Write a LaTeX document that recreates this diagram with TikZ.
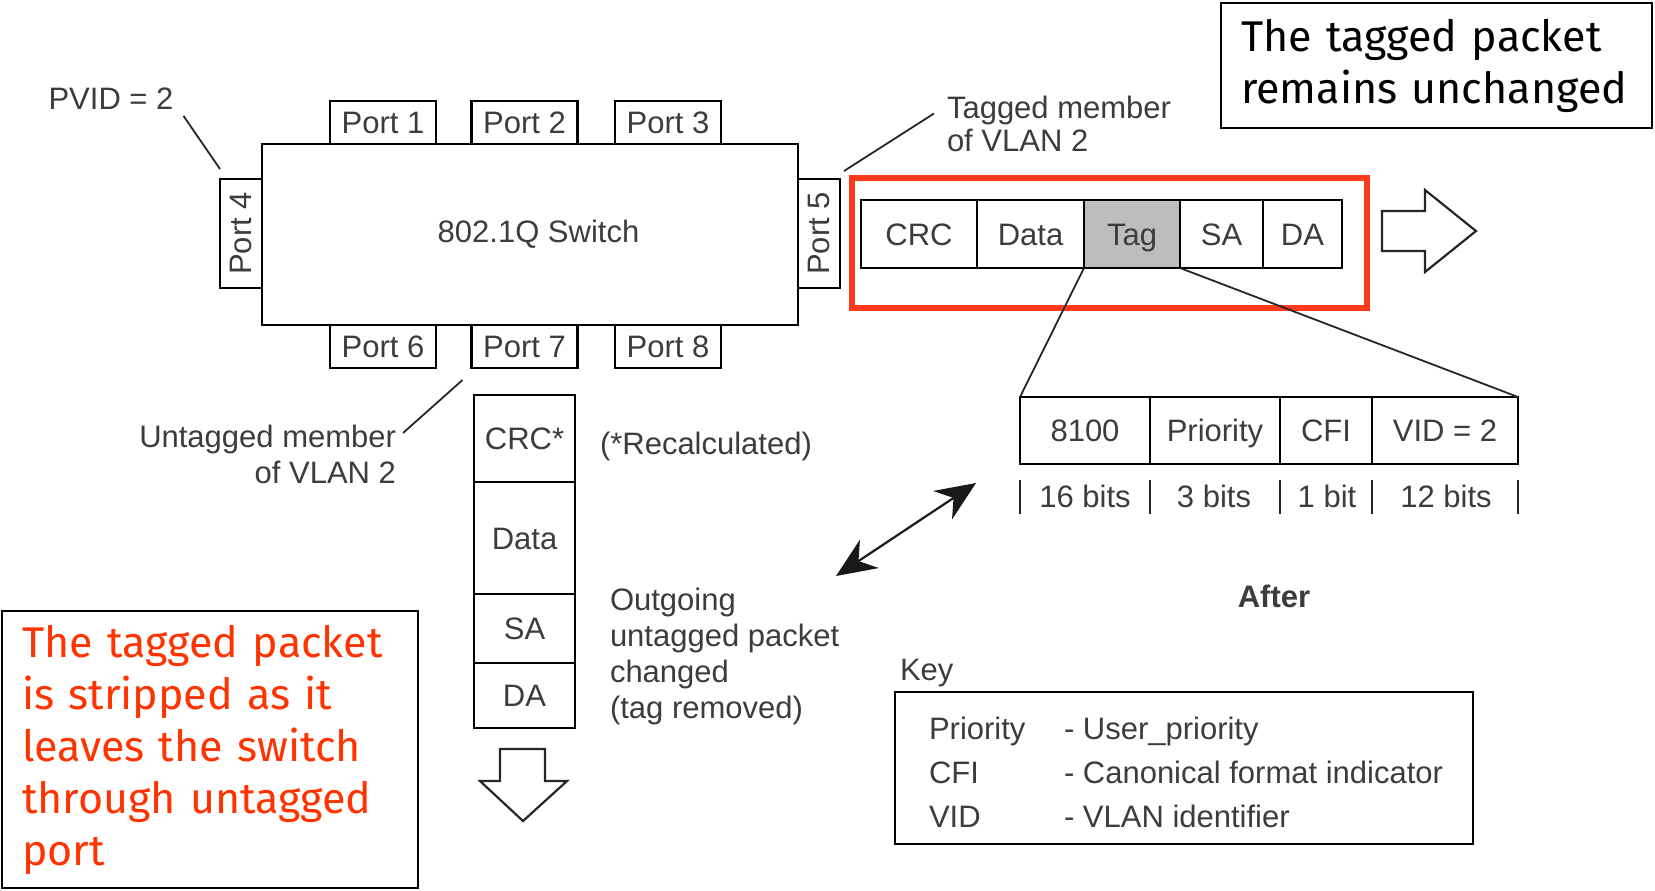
\documentclass[tikz,border=0pt]{standalone}
\usepackage{graphicx}
\usepackage{fontspec}
\setmainfont{Liberation Sans}
\newfontfamily\handfont{Fira Sans}
\usetikzlibrary{arrows.meta,positioning}
\definecolor{NoteRed}{HTML}{FF3300}
\definecolor{FrameRed}{HTML}{FF3A1A}
\definecolor{InkGray}{HTML}{3C3C3C}
\definecolor{TagGray}{HTML}{BDBDBD}

\begin{document}
\begin{tikzpicture}[x=0.5pt,y=-0.5pt,>=Latex,line cap=butt,line join=miter,
  every node/.style={text=InkGray,font=\fontsize{15.5}{18}\selectfont},
  box/.style={draw=black,line width=1.2pt,inner sep=0pt,outer sep=0pt},
  even/.style={text height=14pt,text depth=2.8pt},
  port/.style={box,even,minimum width=53pt,minimum height=21.5pt},
  sideport/.style={box,minimum width=21pt,minimum height=54.5pt},
  cell/.style={box,even,minimum height=34pt},
  vcell/.style={box,even,minimum width=50.5pt},
  txt/.style={inner sep=1pt,outer sep=0pt},
  leader/.style={black!85,line width=0.9pt},
  bitmark/.style={black!85,line width=1.1pt},
  outarrow/.style={draw=black!85,line width=1.1pt},
  notebox/.style={draw=black,line width=1pt,outer sep=0pt,inner xsep=10pt,inner ysep=0pt,
    align=left,font=\handfont\fontsize{21.5}{26}\selectfont}]

\useasboundingbox (0,0) rectangle (1655,890);

% ---- SWITCH AND PORTS ----
\node[box,minimum width=268pt,minimum height=90.5pt] (sw) at (530,234.5) {\hspace*{8.5pt}802.1Q Switch};

\node[port,anchor=south] (p1) at (383,144) {Port 1};
\node[port,anchor=south] (p2) at (524.5,144) {Port 2};
\node[port,anchor=south] (p3) at (668,144) {Port 3};
\node[port,anchor=north] (p6) at (383,325) {Port 6};
\node[port,anchor=north] (p7) at (524.5,325) {Port 7};
\node[port,anchor=north] (p8) at (668,325) {Port 8};
\node[sideport,anchor=east] (p4) at (262,233.5) {\rotatebox{90}{Port 4}};
\node[sideport,anchor=west] (p5) at (798,233.5) {\rotatebox{90}{Port 5}};

% port annotations
\node[txt] (pvid) at (111,99) {PVID = 2};
\draw[leader] ([shift={(8,4)}]pvid.south east) -- ([shift={(0,-10)}]p4.north west);

\node[txt,anchor=west,align=left,font=\fontsize{15.5}{16.5}\selectfont] (tagged) at (945,123.5) {Tagged member\\of VLAN 2};
\draw[leader] ([shift={(-11,-10)}]tagged.west) -- ([shift={(4,-8)}]p5.north east);

\node[txt,anchor=east,align=right] (untagged) at (398,454) {Untagged member\\of VLAN 2};
\draw[leader] ([shift={(5,-21)}]untagged.east) -- ([shift={(-9,12)}]p7.south west);

% ---- TAGGED PACKET (PORT 5) ----
\node[cell,minimum width=58pt,anchor=north west] (crc) at (861,200) {CRC};
\node[cell,minimum width=53.5pt,right=0pt of crc] (data) {Data};
\node[cell,minimum width=48pt,fill=TagGray,right=0pt of data] (tag) {Tag};
\node[cell,minimum width=41.5pt,right=0pt of tag] (sa) {SA};
\node[cell,minimum width=39.5pt,right=0pt of sa] (da) {DA};

\draw[FrameRed,line width=2.6pt] (852,178) rectangle (1367,308);

\draw[outarrow] (1382,211) -- (1425,211) -- (1425,190) -- (1476,231)
  -- (1425,272) -- (1425,251) -- (1382,251) -- cycle;

% ---- TAG DETAIL ----
\node[cell,minimum height=33.5pt,minimum width=65pt,anchor=north west] (tpid) at (1020,397) {8100};
\node[cell,minimum height=33.5pt,minimum width=65pt,right=0pt of tpid] (prio) {Priority};
\node[cell,minimum height=33.5pt,minimum width=46pt,right=0pt of prio] (cfi) {CFI};
\node[cell,minimum height=33.5pt,minimum width=73pt,right=0pt of cfi] (vid) {VID = 2};

\draw[leader] (tag.south west) -- (tpid.north west);
\draw[leader] (tag.south east) -- (vid.north east);

\foreach \x in {1020,1150,1280,1372,1518}
  \draw[bitmark] (\x,480) -- (\x,514);
\node[txt] (b16) at (1085,496) {16 bits};
\node[txt] (b3) at (1214,496) {3 bits};
\node[txt] (b1) at (1327,496) {1 bit};
\node[txt] (b12) at (1446,496) {12 bits};

\coordinate (dblA) at (976,483);
\coordinate (dblB) at (836,576);
\draw[black!90,line width=1.1pt,{Stealth[length=20pt,width=17pt]}-{Stealth[length=20pt,width=17pt]}] (dblB) -- (dblA);

\node[txt,font=\bfseries\fontsize{15.5}{18}\selectfont] (after) at (1274,596) {After};

% ---- KEY ----
\node[txt,anchor=west] (keyhead) at (898,673) {Key};
\node[box,anchor=north west,minimum width=289pt,minimum height=76pt] (keybox) at (895,692) {};
\foreach \abbr/\desc [count=\i] in {Priority/User\_priority,CFI/Canonical format indicator,VID/VLAN identifier}{
  \node[txt,even,anchor=west] (keyl\i) at (927,684+44*\i) {\abbr};
  \node[txt,even,anchor=west] (keyr\i) at (1062,684+44*\i) {- \desc};
}

% ---- UNTAGGED PACKET (PORT 7) ----
\node[vcell,minimum height=43.5pt,anchor=north west] (vcrc) at (474,395) {CRC*};
\node[vcell,minimum height=56pt,below=0pt of vcrc] (vdata) {Data};
\node[vcell,minimum height=34.5pt,below=0pt of vdata] (vsa) {SA};
\node[vcell,minimum height=32.5pt,below=0pt of vsa] (vda) {DA};

\node[txt,anchor=west] (recalc) at (598,446) {(*Recalculated)};
\node[txt,anchor=west,align=left] (outgoing) at (608,656) {Outgoing\\untagged packet\\changed\\(tag removed)};

\draw[outarrow] (500,749) -- (545,749) -- (545,781) -- (567,781) -- (523,821)
  -- (480,781) -- (500,781) -- cycle;

% ---- NOTES ----
\node[notebox,anchor=north west,text width=195.5pt,minimum height=62.5pt,text=black] (keepnote) at (1221,3)
  {The tagged packet\\remains unchanged};
\node[notebox,anchor=north west,text width=188pt,minimum height=138.5pt,text=NoteRed] (stripnote) at (2,611)
  {The tagged packet\\is stripped as it\\leaves the switch\\through untagged\\port};

\end{tikzpicture}
\end{document}
